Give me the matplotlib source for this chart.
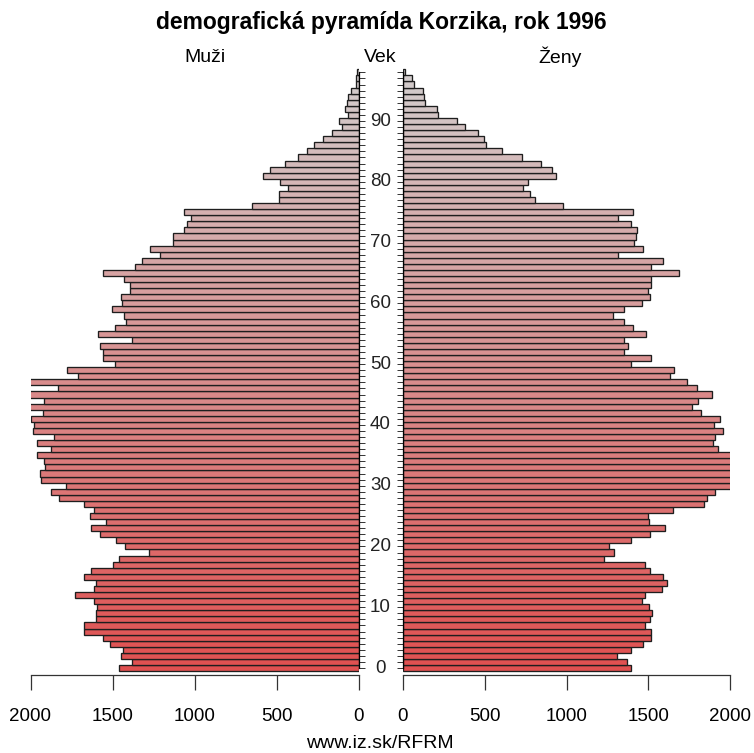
import numpy as np
import matplotlib
matplotlib.use("Agg")
import matplotlib.pyplot as plt
from matplotlib.colors import to_rgb
from matplotlib.transforms import blended_transform_factory

plt.rcParams['font.family'] = ['Liberation Sans', 'DejaVu Sans']

# --- data: population by single year of age (0..98) ---
ages = list(range(99))

men = [1461, 1384, 1451, 1437, 1516, 1559, 1671, 1675, 1598, 1598,
       1594, 1614, 1729, 1610, 1598, 1671, 1634, 1498, 1461, 1279,
       1421, 1478, 1579, 1634, 1537, 1640, 1610, 1671, 1827, 1874,
       1782, 1935, 1943, 1913, 1919, 1959, 1874, 1959, 1854, 1986,
       1976, 1996, 1925, 2010, 1919, 2010, 1834, 2010, 1711, 1776,
       1482, 1557, 1557, 1577, 1380, 1587, 1486, 1415, 1431, 1502,
       1441, 1451, 1394, 1394, 1431, 1557, 1364, 1319, 1211, 1274,
       1130, 1130, 1065, 1045, 1020, 1061, 652, 486, 482, 431,
       476, 583, 537, 449, 370, 313, 272, 215, 161, 100,
       120, 63, 84, 73, 63, 45, 18, 14, 10]

women = [1394, 1370, 1309, 1396, 1468, 1516, 1518, 1478, 1512, 1522,
         1502, 1461, 1478, 1583, 1614, 1593, 1508, 1478, 1232, 1293,
         1262, 1396, 1508, 1600, 1506, 1496, 1650, 1843, 1862, 1909,
         2010, 2010, 2010, 2010, 2010, 2010, 1929, 1898, 1909, 1959,
         1905, 1939, 1821, 1766, 1807, 1892, 1797, 1740, 1630, 1659,
         1396, 1516, 1354, 1374, 1354, 1486, 1407, 1354, 1282, 1350,
         1461, 1512, 1496, 1516, 1516, 1691, 1518, 1593, 1315, 1468,
         1415, 1427, 1431, 1394, 1315, 1404, 980, 807, 776, 736,
         764, 933, 913, 841, 730, 608, 510, 496, 459, 380,
         333, 215, 207, 136, 130, 120, 65, 53, 14]

x_ticks = [0, 500, 1000, 1500, 2000]
age_labels = list(range(0, 100, 10))

title = "demografická pyramída Korzika, rok 1996"

# colour ramp red -> grey with age
c0 = np.array(to_rgb("#e05050"))
c1 = np.array(to_rgb("#d2cdcd"))
t = np.array(ages) / ages[-1]
colors = [tuple(c0 + (c1 - c0) * v) for v in t]

W, H = 754, 753
fig = plt.figure(figsize=(W / 100, H / 100), dpi=100)

bottom_px, top_px = 675, 66
ax_b = 1 - bottom_px / H
ax_h = (bottom_px - top_px) / H
ax_l = fig.add_axes([30.5 / W, ax_b, 328 / W, ax_h])
ax_r = fig.add_axes([403 / W, ax_b, 327 / W, ax_h])

for ax, vals in ((ax_l, men), (ax_r, women)):
    ax.barh(ages, vals, height=1.0, color=colors, edgecolor="#1e1e1e", linewidth=0.95)
    ax.set_xlim(0, 2000)
    ax.set_ylim(-1.15, 99.05)
    ax.set_xticks(x_ticks)
    ax.set_xticklabels([str(v) for v in x_ticks], fontsize=13.5)
    ax.tick_params(axis='x', length=11, width=0.9, pad=13, color="#333333")
    ax.set_yticks(ages)
    ax.set_yticklabels([])
    for s in ("top", "left", "right"):
        ax.spines[s].set_visible(False)
    ax.spines["bottom"].set_linewidth(0.9)
    ax.spines["bottom"].set_color("#333333")

ax_l.invert_xaxis()

# age axis lines in the middle
ax_l.spines["right"].set_visible(True)
ax_l.spines["right"].set_bounds(0, 98)
ax_l.yaxis.tick_right()
ax_l.tick_params(axis='y', length=4, width=0.7, color="#333333")
ax_l.spines["right"].set_linewidth(0.9)

ax_r.spines["left"].set_visible(True)
ax_r.spines["left"].set_bounds(0, 98)
ax_r.tick_params(axis='y', length=4, width=0.7, color="#333333")
ax_r.spines["left"].set_linewidth(0.9)

trans = blended_transform_factory(fig.transFigure, ax_l.transData)
for a in age_labels:
    fig.text(380.5 / W, a, str(a), transform=trans, ha="center", va="center",
             fontsize=13.5, color="#222222")

fig.text(381 / W, 1 - 22 / H, title, ha="center", va="center",
         fontsize=16.5, fontweight="bold")
fig.text(205 / W, 1 - 57 / H, "Muži", ha="center", va="center", fontsize=14)
fig.text(380 / W, 1 - 57 / H, "Vek", ha="center", va="center", fontsize=14)
fig.text(560 / W, 1 - 57 / H, "Ženy", ha="center", va="center", fontsize=14)
fig.text(380 / W, 1 - 743 / H, "www.iz.sk/RFRM", ha="center", va="center", fontsize=14)

fig.savefig("out.png", dpi=100)
